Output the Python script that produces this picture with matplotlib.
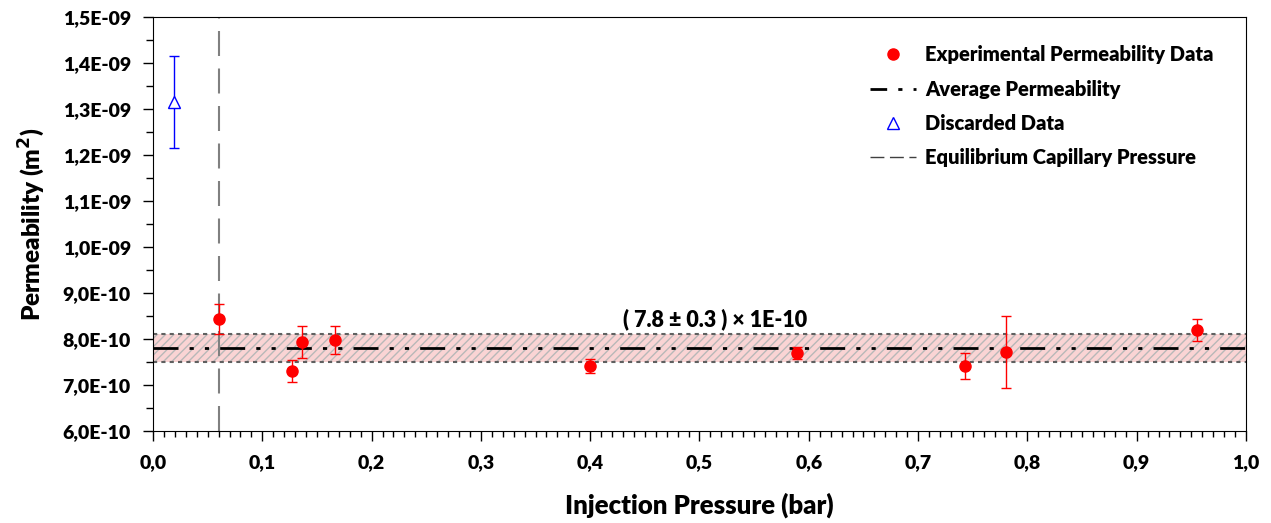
import numpy as np
from matplotlib import pyplot as plt
from matplotlib.lines import Line2D
from matplotlib.ticker import MultipleLocator, FuncFormatter

plt.rcParams['font.family'] = ['Lato', 'DejaVu Sans']
plt.rcParams['font.weight'] = 'heavy'
plt.rcParams['hatch.color'] = '#b0b0b0'

# experimental permeability data
p_exp = [0.06, 0.127, 0.136, 0.1665, 0.40, 0.589, 0.743, 0.780, 0.955]
k_exp = [8.43e-10, 7.30e-10, 7.93e-10, 7.98e-10, 7.41e-10, 7.70e-10, 7.41e-10, 7.72e-10, 8.20e-10]
k_err = [0.33e-10, 0.24e-10, 0.35e-10, 0.31e-10, 0.15e-10, 0.13e-10, 0.28e-10, 0.79e-10, 0.235e-10]

# discarded point
p_disc = [0.019]
k_disc = [1.315e-09]
k_disc_err = [1.0e-10]

k_avg = 7.8e-10
k_avg_err = 0.3e-10
p_cap = 0.06  # equilibrium capillary pressure (bar)

W = 'heavy'

fig = plt.figure(figsize=(12.71, 5.23), dpi=100)
ax = fig.add_axes([0.1204, 0.176, 0.8599, 0.7915])

# band around the average
ax.axhspan(k_avg - k_avg_err, k_avg + k_avg_err, facecolor='#fad4d4', edgecolor='#b8b8b8',
           hatch='////', linewidth=0, zorder=1)
ax.axhline(k_avg + k_avg_err, color='#606060', ls=(0, (2, 2)), lw=1.5, zorder=2)
ax.axhline(k_avg - k_avg_err, color='#606060', ls=(0, (2, 2)), lw=1.5, zorder=2)

ax.axvline(p_cap, color='#808080', ls=(0, (12, 6)), lw=1.5, zorder=2)
ax.axhline(k_avg, color='black', ls=(0, (9, 4, 1.5, 4, 1.5, 4)), lw=2, zorder=3)

ax.errorbar(p_exp, k_exp, yerr=k_err, fmt='o', color='red', ms=8, capsize=3.5,
            elinewidth=1, capthick=1, zorder=5)
ax.errorbar(p_disc, k_disc, yerr=k_disc_err, fmt='^', color='blue', mfc='white', ms=8,
            capsize=3.5, elinewidth=1, capthick=1, zorder=5)

ax.text(0.514, 8.43e-10, '( 7.8 ± 0.3 ) × 1E-10', ha='center', va='center',
        fontsize=15.5, fontweight=W)

ax.set_xlim(0, 1.0)
ax.set_ylim(6.0e-10, 1.5e-09)
ax.xaxis.set_major_locator(MultipleLocator(0.1))
ax.xaxis.set_minor_locator(MultipleLocator(0.01))
ax.yaxis.set_major_locator(MultipleLocator(1e-10))
ax.yaxis.set_minor_locator(MultipleLocator(0.5e-10))
ax.xaxis.set_major_formatter(FuncFormatter(lambda v, pos: f'{v:.1f}'.replace('.', ',')))
ax.yaxis.set_major_formatter(FuncFormatter(lambda v, pos: f'{v:.1E}'.replace('.', ',')))
ax.tick_params(axis='both', which='major', labelsize=14, length=7, width=1)
ax.tick_params(axis='x', which='minor', length=4, width=1)
ax.tick_params(axis='y', which='minor', length=5, width=1)
ax.tick_params(axis='x', pad=10)
ax.tick_params(axis='y', pad=9)
for lab in ax.get_xticklabels() + ax.get_yticklabels():
    lab.set_fontweight(W)

ax.set_xlabel('Injection Pressure (bar)', fontsize=18.5, fontweight=W, labelpad=15)
ax.set_ylabel('Permeability (m$\\mathbf{^2}$)', fontsize=17.5, fontweight=W, labelpad=11)

handles = [
    Line2D([], [], ls='none', marker='o', color='red', ms=8),
    Line2D([], [], color='black', ls=(0, (6, 4, 1.5, 4, 1.5, 4)), lw=2),
    Line2D([], [], ls='none', marker='^', color='blue', mfc='white', ms=8),
    Line2D([], [], color='#404040', ls=(0, (10, 4)), lw=1),
]
labels = ['Experimental Permeability Data', 'Average Permeability',
          'Discarded Data', 'Equilibrium Capillary Pressure']
ax.legend(handles, labels, loc='upper right', frameon=False,
          prop={'size': 14.5, 'weight': W}, labelspacing=0.75, handlelength=2.3,
          handletextpad=0.45, bbox_to_anchor=(0.987, 0.975))

fig.savefig('out.png', dpi=100)
